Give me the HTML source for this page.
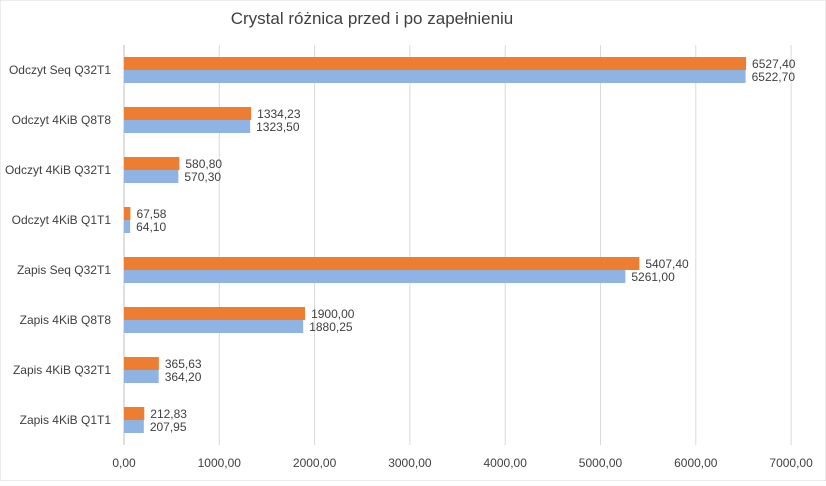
<!DOCTYPE html>
<html><head><meta charset="utf-8"><style>
body{margin:0;background:#fff;font-family:"Liberation Sans",sans-serif;}
svg text{font-family:"Liberation Sans",sans-serif;fill:#404040;}
</style></head><body>
<svg width="826" height="481">
<rect width="826" height="481" fill="#fff" stroke="#d9d9d9"/>
<text x="372" y="24" font-size="17" text-anchor="middle">Crystal różnica przed i po zapełnieniu</text>
<g id="grid"></g><g id="bars"></g><g id="labels"></g>
</svg>
<script>
const categories=["Odczyt Seq Q32T1","Odczyt 4KiB Q8T8","Odczyt 4KiB Q32T1","Odczyt 4KiB Q1T1","Zapis Seq Q32T1","Zapis 4KiB Q8T8","Zapis 4KiB Q32T1","Zapis 4KiB Q1T1"];
const seriesBefore=[6527.40,1334.23,580.80,67.58,5407.40,1900.00,365.63,212.83];
const seriesAfter=[6522.70,1323.50,570.30,64.10,5261.00,1880.25,364.20,207.95];
const ticks=[0,1000,2000,3000,4000,5000,6000,7000];
const tickLabels=["0,00","1000,00","2000,00","3000,00","4000,00","5000,00","6000,00","7000,00"];
const NS="http://www.w3.org/2000/svg";
const x0=124,pxPer=95.3/1000,plotTop=45,rowH=50;
const xs=v=>x0+v*pxPer;
const ys=i=>plotTop+i*rowH+25;
function mk(t,a,p){const e=document.createElementNS(NS,t);for(const k in a)e.setAttribute(k,a[k]);p.appendChild(e);return e;}
const g=document.getElementById('grid'),b=document.getElementById('bars'),l=document.getElementById('labels');
const fmt=v=>v.toFixed(2).replace('.',',');
ticks.forEach((t,i)=>{
 const ln=mk('line',{x1:xs(t),x2:xs(t),y1:plotTop,y2:plotTop+rowH*8,stroke:i==0?'#bfbfbf':'#d9d9d9'},g);
 
 
 const tx=mk('text',{x:xs(t),y:467,'font-size':12,'text-anchor':'middle'},l);
 tx.textContent=tickLabels[i];
 
 
});
categories.forEach((c,i)=>{
 const cy=ys(i);
 const ct=mk('text',{x:111,y:cy+4,'font-size':12,'text-anchor':'end'},l);
 ct.textContent=c;
 
 
 const r1=mk('rect',{x:x0,y:cy-13,width:xs(seriesBefore[i])-x0,height:13,fill:'#ED7D31'},b);
 
 
 const r2=mk('rect',{x:x0,y:cy,width:xs(seriesAfter[i])-x0,height:13,fill:'#8FB4E3'},b);
 
 
 const t1=mk('text',{x:xs(seriesBefore[i])+6,y:cy-2,'font-size':12},l);
 t1.textContent=fmt(seriesBefore[i]);
 
 
 const t2=mk('text',{x:xs(seriesAfter[i])+6,y:cy+11,'font-size':12},l);
 t2.textContent=fmt(seriesAfter[i]);
 
 
});
</script>
</body></html>
